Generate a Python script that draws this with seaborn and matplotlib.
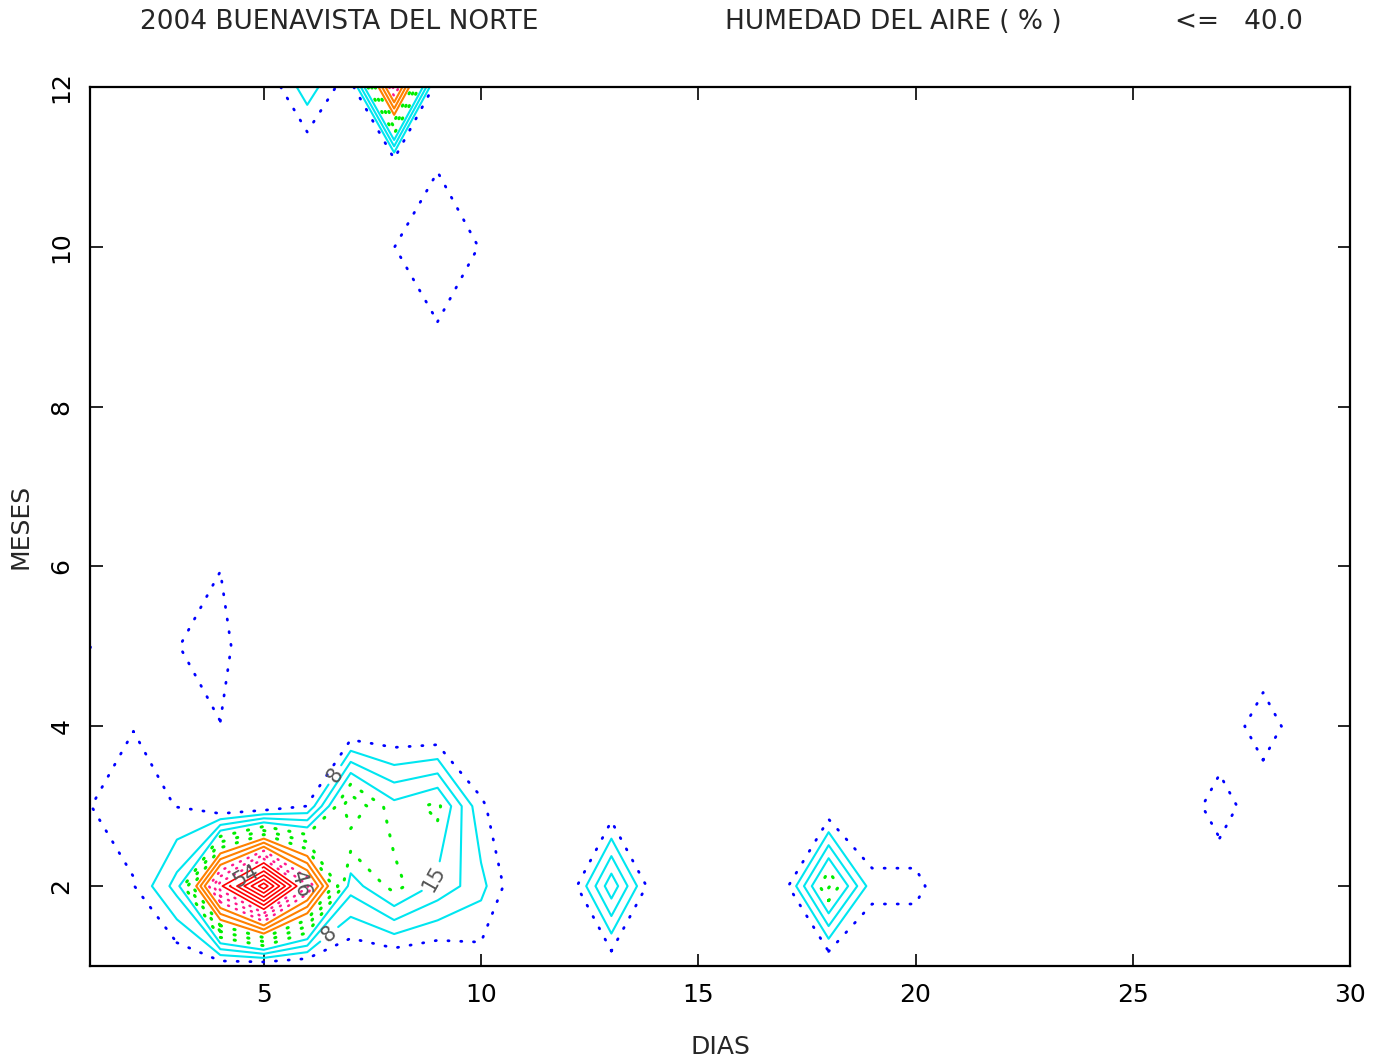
import matplotlib
matplotlib.use("Agg")
import matplotlib.pyplot as plt
import numpy as np
import pandas as pd
import seaborn as sns

# Grid axes: day of month (x) and month of the year (y)
days = list(range(1, 31))
months = list(range(1, 13))

# Monthly rows of the field, one value per day (1..30)
ene = [0, 0, 1.0, 1.5, 1.0, 0.5, 0, 0, 0, 2.5, 0, 0, 1.5, 0, 0,
       0, 0, 0.5, 0, 0, 0, 0, 0, 0, 0, 0, 0, 0, 0, 0]
feb = [0, 4.3, 13, 49, 70, 43.7, 13, 20, 14, 9.2, 0, 1.1, 17.5, 1.4, 0,
       0, 3.1, 22.5, 5.8, 5.8, 0, 0, 0, 0, 0, 0, 0, 0, 0, 0]
mar = [4.45, 6, 4.4, 0, 1, 4.6, 25.5, 16.2, 19.5, 5.1, 0, 0, 1.5, 0, 0,
       0, 0, 1, 0, 0, 0, 0, 0, 0, 0, 0, 7.5, 0, 0, 0]
abr = [0, 4.4, 0, 4.4, 0, 0, 0.25, 0.3, 0, 0, 0, 0, 0, 0, 0,
       0, 0, 0, 0, 0, 0, 0, 0, 0, 0, 0, 0, 7.8, 0, 0]
may = [4.6, 0, 4.4, 6, 0, 0, 0, 0, 0, 0, 0, 0, 0, 0, 0,
       0, 0, 0, 0, 0, 0, 0, 0, 0, 0, 0, 0, 0, 0, 0]
jun = [0, 0, 0, 4.4, 0, 0, 0, 0, 0, 0, 0, 0, 0, 0, 0,
       0, 0, 0, 0, 0, 0, 0, 0, 0, 0, 0, 0, 0, 0, 0]
jul = [0] * 30
ago = [0] * 30
sep = [0, 0, 0, 0, 0, 0, 0, 0, 4.4, 0, 0, 0, 0, 0, 0,
       0, 0, 0, 0, 0, 0, 0, 0, 0, 0, 0, 0, 0, 0, 0]
octu = [0, 0, 0, 0, 0, 0, 0, 4.48, 6, 4.4, 0, 0, 0, 0, 0,
        0, 0, 0, 0, 0, 0, 0, 0, 0, 0, 0, 0, 0, 0, 0]
nov = [0, 0, 0, 0, 0, 0, 0, 0, 4.4, 0, 0, 0, 0, 0, 0,
       0, 0, 0, 0, 0, 0, 0, 0, 0, 0, 0, 0, 0, 0, 0]
dic = [0, 0, 0, 0, 0.8, 10.3, 1.5, 44.5, 0, 0, 0, 0, 0, 0, 0,
       0, 0, 0, 0, 0, 0, 0, 0, 0, 0, 0, 0, 0, 0, 0]

# Contour levels, grouped by colour band
levels_blue = [4.5]
levels_cyan = [8, 11.5, 15]
levels_green = [18.5, 22, 25.5]
levels_orange = [29, 32.5, 36]
levels_pink = [39.5, 43, 46.5]
levels_red = [50, 53.5, 57, 60.5, 64, 67.5]
labelled_levels = [8, 15, 46.5, 53.5]

title_left = "2004 BUENAVISTA DEL NORTE"
title_mid = "HUMEDAD DEL AIRE ( % )"
title_right = "<=   40.0"
x_label = "DIAS"
y_label = "MESES"

sns.set_style("ticks")
plt.rcParams["font.family"] = ["DejaVu Sans"]

grid = pd.DataFrame([ene, feb, mar, abr, may, jun, jul, ago, sep, octu, nov, dic],
                    index=months, columns=days)

W, H = 1383, 1061
fig = plt.figure(figsize=(W / 100, H / 100), dpi=100)
fig.patch.set_facecolor("white")
ax = fig.add_axes([90 / W, 1 - 966 / H, 1260 / W, 879 / H])

dot = (0, (0.4, 4.2))
fine_dot = (0, (0.4, 3.0))
bands = [
    (levels_blue, "#0000ff", dot, 2.0),
    (levels_cyan, "#00e6f0", "solid", 1.5),
    (levels_green, "#00ee00", dot, 2.2),
    (levels_orange, "#ff8000", "solid", 1.5),
    (levels_pink, "#ff1a8c", fine_dot, 1.8),
    (levels_red, "#ff0000", "solid", 1.2),
]
plain = {"levels": [], "colors": [], "linestyles": [], "linewidths": []}
marked = {"levels": [], "colors": [], "linestyles": [], "linewidths": []}
for lv, c, s, w in bands:
    for v in lv:
        d = marked if v in labelled_levels else plain
        d["levels"].append(v)
        d["colors"].append(c)
        d["linestyles"].append(s)
        d["linewidths"].append(w)

X, Y, Z = grid.columns.values, grid.index.values, grid.values
cs_plain = ax.contour(X, Y, Z, **plain)
cs_plain.set_capstyle("round")
cs_marked = ax.contour(X, Y, Z, **marked)
cs_marked.set_capstyle("round")

ax.clabel(cs_marked, fmt=lambda v: f"{v:.0f}",
          manual=[(6.75, 3.35), (6.5, 1.4), (8.9, 2.1), (5.95, 2.1), (4.6, 2.12)],
          colors="#555555", fontsize=15, inline=True)

ax.set_xlim(1, 30)
ax.set_ylim(1, 12)
ax.set_xticks([5, 10, 15, 20, 25, 30])
ax.set_yticks([2, 4, 6, 8, 10, 12])
ax.tick_params(axis="both", direction="in", length=9, width=1.2,
               top=True, right=True, labelsize=18, colors="black")
ax.tick_params(axis="x", pad=12)
ax.tick_params(axis="y", pad=12, labelrotation=90)
for lab in ax.get_yticklabels():
    lab.set_verticalalignment("center")
for sp in ax.spines.values():
    sp.set_linewidth(1.6)
    sp.set_color("black")

ax.set_xlabel(x_label, fontsize=18)
ax.set_ylabel(y_label, fontsize=18)
ax.xaxis.set_label_coords(0.5, -0.079)
ax.yaxis.set_label_coords(-0.046, 0.5)

ty = 1 - 22 / H
fig.text(140 / W, ty, title_left, ha="left", va="center", fontsize=19)
fig.text(725 / W, ty, title_mid, ha="left", va="center", fontsize=19)
fig.text(1175 / W, ty, title_right, ha="left", va="center", fontsize=19)

fig.savefig("out.png", dpi=100, facecolor="white")
